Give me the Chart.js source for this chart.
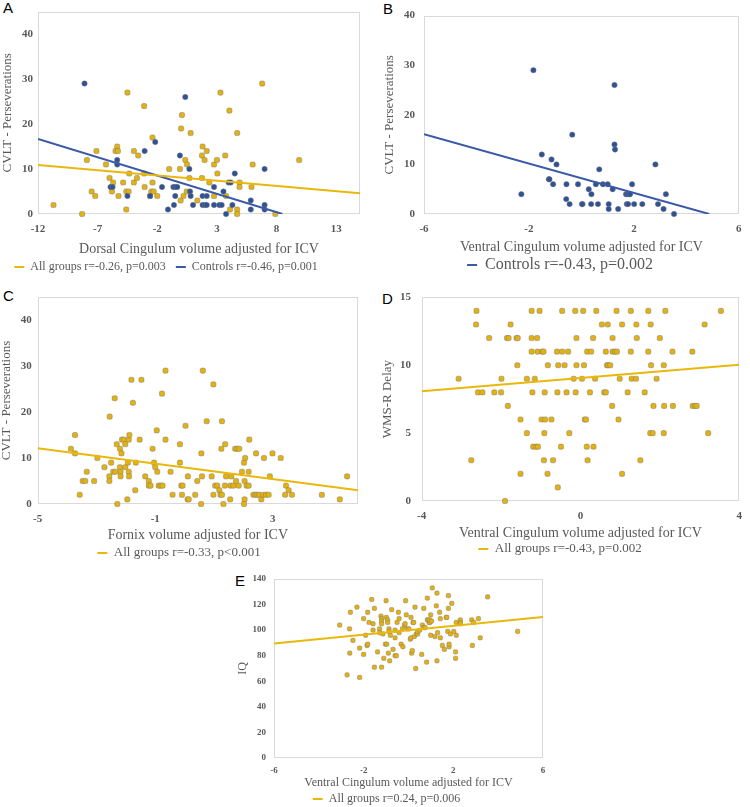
<!DOCTYPE html>
<html><head><meta charset="utf-8">
<script src="https://cdn.jsdelivr.net/npm/chart.js@4.4.1/dist/chart.umd.min.js"></script>
<style>
html,body{margin:0;padding:0;background:#fff;}
body{width:750px;height:807px;overflow:hidden;position:relative;}
canvas{position:absolute;}
.lt{position:absolute;font-family:"Liberation Sans",Arial,sans-serif;font-size:15px;color:#000;line-height:1;}
</style></head><body>
<div class="lt" style="left:3px;top:0px">A</div>
<div class="lt" style="left:383px;top:1px">B</div>
<div class="lt" style="left:3px;top:288px">C</div>
<div class="lt" style="left:382px;top:291px">D</div>
<div class="lt" style="left:235px;top:573px">E</div>
<script>
// ---------- Panel A : Dorsal cingulum vs CVLT perseverations ----------
const aAllX = [-10.7,-8.3,-7.9,-7.5,-7.2,-7.1,-6.3,-6.0,-5.8,-5.7,-5.5,-5.36,-5.3,-5.25,-4.86,-4.6,-4.4,-4.6,-4.5,-4.35,-3.96,-3.96,-3.7,-3.6,-3.1,-3.06,-3.1,-2.6,-2.5,-2.4,-2.4,-2.3,-2.0,-1.0,-0.1,-0.04,0.0,0.07,0.2,0.35,0.47,0.5,0.8,0.7,1.36,1.75,1.75,1.8,1.97,2.15,2.37,2.76,2.76,3.0,3.04,3.3,3.7,3.77,4.05,4.1,4.7,4.7,4.7,4.9,4.9,5.9,6.0,6.8,7.9,9.9];
const aAllY = [2,0,12,5,4,14,11,8,5,7,14,15,14,4,7,5,5,1,27,9,7,14,8,13,24,6,9,4,5,17,7,5,4,10,10,3,19,22,4,12,5,11,18,8,3,8,13,15,12,14,7,11,4,12,9,27,13,4,23,1,18,1,0,7,6,6,11,29,0,12];
const aCtrlX = [-8.1,0.35,-2.17,-3.06,-5.36,-5.36,-0.1,0.69,4.5,7.0,-5.92,-5.75,-1.6,-0.65,-0.49,-0.32,0.75,-4.5,-2.6,-0.49,0.8,1.8,2.15,2.76,3.55,3.99,4.16,4.3,5.84,5.84,7.0,7.0,-1.1,-0.6,1.0,1.8,2.0,2.15,2.76,3.2,3.4,3.77];
const aCtrlY = [29,26,16,14,12,11,13,10,9,10,6,6,6,6,6,6,5,4,4,4,4,4,4,6,5,7,7,2,3,1,2,1,1,2,2,2,2,2,2,2,2,0];
const aAllTrendX = [-12,15];
const aAllTrendY = [10.9,4.6];
const aCtrlTrendX = [-12,8.5];
const aCtrlTrendY = [16.7,0];
const aXTicks = [-12,-7,-2,3,8,13];
const aYTicks = [0,10,20,30,40];
const aLabels = ['All groups r=-0.26, p=0.003','Controls r=-0.46, p=0.001'];

// ---------- Panel B : Ventral cingulum (controls) ----------
const bCtrlX = [-2.29,-1.83,-1.51,-1.14,-0.95,-1.24,-1.22,-1.08,-0.57,-0.58,-0.45,-0.35,-0.13,0.02,0.04,0.28,0.38,0.37,0.55,0.63,0.68,0.82,1.0,1.04,1.04,1.19,1.26,1.26,1.28,1.4,1.7,1.75,1.83,1.85,1.73,1.78,1.93,2.01,2.32,2.82,2.92,3.13,3.22,3.53];
const bCtrlY = [4,29,12,11,10,7,7,6,6,3,2,16,6,2,2,5,4,2,6,2,9,6,6,2,1,5,26,14,13,1,4,4,4,4,2,2,6,2,2,10,2,1,4,0];
const bTrendX = [-6,4.87];
const bTrendY = [16.1,0];
const bXTicks = [-6,-2,2,6];
const bYTicks = [0,10,20,30,40];
const bLabels = ['Controls r=-0.43, p=0.002'];

// ---------- Panel C : Fornix ----------
const cAllX = [-3.87,-3.73,-3.73,-3.57,-3.47,-3.38,-3.33,-3.08,-2.97,-2.73,-2.56,-2.56,-2.55,-2.5,-2.43,-2.36,-2.38,-2.31,-2.29,-2.2,-2.15,-2.2,-2.18,-2.18,-2.13,-2.07,-2.02,-2.02,-1.95,-1.93,-1.9,-1.88,-1.9,-1.89,-1.81,-1.76,-1.68,-1.66,-1.53,-1.47,-1.34,-1.22,-1.22,-1.16,-1.09,-1.04,-1.0,-0.95,-0.93,-0.88,-0.82,-0.75,-0.77,-0.65,-0.65,-0.48,-0.41,-0.16,-0.16,-0.11,-0.07,-0.09,0.03,0.1,0.14,0.11,0.36,0.43,0.56,0.57,0.59,0.62,0.75,0.92,0.98,0.98,1.04,1.11,1.18,1.22,1.27,1.27,1.25,1.32,1.37,1.38,1.41,1.55,1.56,1.59,1.66,1.72,1.79,1.86,1.75,1.84,1.95,2.02,2.04,2.06,2.04,2.02,2.11,2.18,2.18,2.2,2.34,2.41,2.47,2.54,2.43,2.61,2.68,2.77,2.86,2.7,2.9,2.99,3.27,3.42,3.45,3.54,3.65,4.67,5.28,5.53];
const cAllY = [12,15,11,2,5,5,7,5,10,8,6,5,19,9,7,7,23,13,0,12,11,8,7,6,14,14,13,8,1,9,14,15,7,6,27,22,3,9,14,27,6,5,4,4,12,9,8,16,7,4,4,4,24,29,14,7,2,9,13,4,4,2,17,1,1,6,2,5,0,11,6,29,18,6,26,2,4,4,3,2,2,18,12,0,4,13,6,1,4,6,4,12,12,12,5,4,7,9,5,10,1,0,4,4,7,14,2,2,2,2,11,1,2,2,2,10,6,11,10,2,4,3,2,2,1,6];
const cTrendX = [-5,5.9];
const cTrendY = [12.1,3.0];
const cXTicks = [-5,-1,3];
const cYTicks = [0,10,20,30,40];
const cLabels = ['All groups r=-0.33, p<0.001'];

// ---------- Panel D : Ventral cingulum vs WMS-R delay ----------
const dAllX = [-2.62,-1.23,-1.03,-0.46,-0.13,0.07,0.40,0.91,1.27,1.71,2.14,3.54,
  -2.63,-1.76,0.54,0.69,1.05,1.41,1.77,3.13,
  -2.30,-1.85,-1.81,-1.61,-1.58,-1.23,-1.09,-0.10,0.32,0.81,1.42,2.0,
  -1.23,-1.08,-0.96,-0.93,-0.59,-0.46,-0.31,0.17,0.27,0.64,0.81,0.87,0.92,1.27,1.71,2.32,2.82,
  -1.59,-0.82,-0.56,-0.40,-0.10,0.09,0.67,0.70,0.75,1.78,2.10,
  -3.07,-1.99,-1.35,-1.15,-0.17,0.04,0.37,0.99,1.29,1.40,1.92,
  -2.58,-2.47,-2.17,-2.0,-1.21,-0.90,-0.58,-0.35,-0.12,0.24,0.60,0.64,1.19,1.62,
  -1.83,0.80,1.84,2.11,2.33,2.83,2.89,2.93,
  -1.51,-0.98,-0.89,-0.73,0.11,0.14,0.96,
  -1.35,-0.91,-0.28,1.76,1.82,2.10,3.22,
  -1.19,-1.12,-1.07,-0.49,0.16,0.33,
  -2.75,-0.92,-0.69,0.18,1.51,
  -1.51,-0.83,1.05,
  -0.57,
  -1.90];
const dAllY = [14,14,14,14,14,14,14,14,14,14,14,14,
  13,13,13,13,13,13,13,13,
  12,12,12,12,12,12,12,12,12,12,12,12,
  11,11,11,11,11,11,11,11,11,11,11,11,11,11,11,11,11,
  10,10,10,10,10,10,10,10,10,10,10,
  9,9,9,9,9,9,9,9,9,9,9,
  8,8,8,8,8,8,8,8,8,8,8,8,8,8,
  7,7,7,7,7,7,7,7,
  6,6,6,6,6,6,6,
  5,5,5,5,5,5,5,
  4,4,4,4,4,4,
  3,3,3,3,3,
  2,2,2,
  1,
  0];
const dTrendX = [-4,4];
const dTrendY = [8.08,10.03];
const dXTicks = [-4,0,4];
const dYTicks = [0,5,10,15];
const dLabels = ['All groups r=-0.43, p=0.002'];

// ---------- Panel E : Ventral cingulum vs IQ ----------
const eAllX = [-3.07,-2.74,-2.63,-2.62,-2.59,-2.48,-2.30,-2.18,-2.18,-2.0,-2.0,-1.91,-1.85,-1.82,-1.82,-1.76,-1.64,-1.58,-1.58,-1.52,-1.52,-1.38,-1.29,-1.29,-1.23,-1.2,-1.2,-1.2,-1.2,-1.14,-1.1,-1.03,-0.97,-1.0,-0.99,-0.93,-0.93,-0.9,-0.87,-0.87,-0.84,-0.81,-0.75,-0.69,-0.6,-0.6,-0.6,-0.54,-0.51,-0.45,-0.42,-0.42,-0.33,-0.27,-0.25,-0.18,-0.15,-0.13,-0.1,-0.04,0.02,0.08,0.11,0.11,0.14,0.17,0.2,0.23,0.26,0.29,0.32,0.35,0.41,0.41,0.5,0.59,0.62,0.68,0.68,0.74,0.81,0.84,0.87,0.84,0.92,0.95,0.95,0.99,0.99,1.03,1.06,1.18,1.24,1.27,1.27,1.3,1.39,1.42,1.42,1.51,1.6,1.68,1.71,1.75,1.78,1.78,1.81,1.81,1.87,1.93,2.02,2.1,2.1,2.13,2.13,2.31,2.31,2.31,2.82,2.85,2.91,3.12,3.2,3.53,4.87];
const eAllY = [104,65,101,82,114,92,118,86,63,109,81,96,88,89,114,106,124,105,100,117,71,83,101,98,111,109,107,105,71,97,78,89,89,123,110,108,106,82,101,99,76,96,116,85,100,94,80,80,106,114,109,98,89,101,87,104,105,123,112,101,101,93,94,110,82,84,106,106,95,118,70,97,97,99,100,81,104,117,102,102,75,108,108,125,106,106,108,112,96,107,133,95,119,129,76,98,114,109,94,88,85,110,110,99,117,127,87,89,97,121,99,83,78,96,106,108,106,105,108,88,106,109,94,126,99];
const eTrendX = [-6,6];
const eTrendY = [89.6,110.3];
const eXTicks = [-6,-2,2,6];
const eYTicks = [0,20,40,60,80,100,120,140];
const eLabels = ['All groups r=0.24, p=0.006'];

// ---------- styling helpers ----------
const SERIF = '"Liberation Serif","DejaVu Serif",serif';
const GOLD = '#E4B20E', GOLD_LINE = '#E8B80C';
const BLUE = '#2F5297', BLUE_LINE = '#3A5AA8';
const GREY = '#595959';

function pts(xs, ys) { return xs.map((x, i) => ({x: x, y: ys[i]})); }
function trend(label, xs, ys, color) {
  return {label: label, data: pts(xs, ys), showLine: true, borderColor: color, backgroundColor: color,
    borderWidth: 2, pointRadius: 0, pointHoverRadius: 0, pointStyle: 'line', inLegend: true};
}
function marks(xs, ys, color, style, r) {
  return {label: '', data: pts(xs, ys), showLine: false, pointStyle: style, pointRadius: r, pointHoverRadius: r,
    backgroundColor: color, borderColor: color, pointBackgroundColor: color,
    pointBorderColor: 'rgba(120,120,120,0.45)', pointBorderWidth: 1, clip: false, inLegend: false};
}

const frame = {id: 'frame', beforeDatasetsDraw(c) {
  const a = c.chartArea, x = c.ctx;
  x.save(); x.strokeStyle = '#D9D9D9'; x.lineWidth = 1;
  x.strokeRect(Math.round(a.left) + 0.5, Math.round(a.top) + 0.5, Math.round(a.right - a.left) - 1, Math.round(a.bottom - a.top) - 1);
  x.restore();
}};

function panel(g, s) {
  const areaL = g.l - g.cl, areaT = g.t - g.ct, areaR = g.r - g.cl, areaB = g.b - g.ct;
  const padR = g.cw - areaR;
  const legendTop = g.legY - g.ct - g.legPad - g.legSize / 2;
  const xh = legendTop - areaB;
  const xTickPad = g.tickY - g.b - g.tickSize * 1.2 / 2;
  const xTitlePadB = legendTop - (g.xTitleY - g.ct) - g.xTitleSize * 1.2 / 2;
  const legendBottom = legendTop + g.legSize + g.legPad + 10;
  const ch = Math.ceil(legendBottom) + 1;
  const padB = ch - legendBottom;
  const yTitlePadT = g.yTitleX - g.cl - g.yTitleSize * 1.2 / 2;
  const cv = document.createElement('canvas');
  cv.width = g.cw; cv.height = ch;
  cv.style.left = g.cl + 'px'; cv.style.top = g.ct + 'px';
  document.body.appendChild(cv);
  const tickFont = {family: SERIF, size: g.tickSize, weight: 'bold'};
  new Chart(cv, {
    type: 'scatter',
    data: {datasets: s.datasets},
    options: {
      responsive: false, animation: false, events: [],
      layout: {padding: {left: 0, top: areaT, right: padR, bottom: padB}},
      plugins: {
        tooltip: {enabled: false},
        legend: {position: 'bottom', align: 'center',
          labels: {usePointStyle: true, pointStyleWidth: 10, padding: g.legPad, color: GREY,
            font: {family: SERIF, size: g.legSize},
            filter: (it, d) => d.datasets[it.datasetIndex].inLegend}}
      },
      scales: {
        x: {type: 'linear', min: s.xMin, max: s.xMax,
          afterBuildTicks: sc => { sc.ticks = s.xTicks.map(v => ({value: v})); },
          afterFit: sc => { sc.height = xh; },
          grid: {display: false, drawTicks: false}, border: {display: false},
          ticks: {padding: xTickPad, autoSkip: false, maxRotation: 0, font: tickFont, color: GREY},
          title: {display: true, text: s.xTitle, color: GREY, font: {family: SERIF, size: g.xTitleSize},
            padding: {top: 0, bottom: xTitlePadB}}},
        y: {type: 'linear', min: s.yMin, max: s.yMax,
          afterBuildTicks: sc => { sc.ticks = s.yTicks.map(v => ({value: v})); },
          afterFit: sc => { sc.width = areaL; },
          grid: {display: false, drawTicks: false}, border: {display: false},
          ticks: {padding: g.yTickPad, autoSkip: false, font: tickFont, color: GREY},
          title: {display: true, text: s.yTitle, color: GREY, font: {family: SERIF, size: g.yTitleSize},
            padding: {top: yTitlePadT, bottom: 0}}}
      }
    },
    plugins: [frame]
  });
}

// Panel A
panel({cl: -28, ct: 0, cw: 403, l: 38, t: 7, r: 360, b: 214, tickSize: 11, tickY: 229.5,
  xTitleSize: 14, xTitleY: 249, yTitleSize: 13, yTitleX: 7.5, yTickPad: 5, legSize: 12, legY: 267, legPad: 10},
  {xMin: -12, xMax: 15, yMin: 0, yMax: 45, xTicks: aXTicks, yTicks: aYTicks,
   xTitle: 'Dorsal Cingulum volume adjusted for ICV', yTitle: 'CVLT - Perseverations',
   datasets: [trend(aLabels[0], aAllTrendX, aAllTrendY, GOLD_LINE),
              trend(aLabels[1], aCtrlTrendX, aCtrlTrendY, BLUE_LINE),
              marks(aCtrlX, aCtrlY, BLUE, 'circle', 2.7),
              marks(aAllX, aAllY, GOLD, 'rectRounded', 3)]});

// Panel B
panel({cl: 375, ct: 0, cw: 375, l: 424, t: 7, r: 745, b: 214, tickSize: 11, tickY: 229,
  xTitleSize: 14, xTitleY: 247, yTitleSize: 13, yTitleX: 390, yTickPad: 9, legSize: 16, legY: 265, legPad: 10},
  {xMin: -6, xMax: 6, yMin: 0, yMax: 40, xTicks: bXTicks, yTicks: bYTicks,
   xTitle: 'Ventral Cingulum volume adjusted for ICV', yTitle: 'CVLT - Perseverations',
   datasets: [trend(bLabels[0], bTrendX, bTrendY, BLUE_LINE),
              marks(bCtrlX, bCtrlY, BLUE, 'circle', 2.7)]});

// Panel C
panel({cl: 0, ct: 280, cw: 375, l: 37.7, t: 297, r: 358, b: 504, tickSize: 11, tickY: 519,
  xTitleSize: 14, xTitleY: 535, yTitleSize: 13, yTitleX: 7, yTickPad: 6, legSize: 13, legY: 553, legPad: 10},
  {xMin: -5, xMax: 5.9, yMin: 0, yMax: 45, xTicks: cXTicks, yTicks: cYTicks,
   xTitle: 'Fornix volume adjusted for ICV', yTitle: 'CVLT - Perseverations',
   datasets: [trend(cLabels[0], cTrendX, cTrendY, GOLD_LINE),
              marks(cAllX, cAllY, GOLD, 'rectRounded', 3)]});

// Panel D
panel({cl: 375, ct: 280, cw: 375, l: 421.7, t: 297, r: 745, b: 501, tickSize: 11, tickY: 515.7,
  xTitleSize: 14, xTitleY: 533, yTitleSize: 13, yTitleX: 387.7, yTickPad: 10.7, legSize: 13, legY: 549, legPad: 10},
  {xMin: -4, xMax: 4, yMin: 0, yMax: 15, xTicks: dXTicks, yTicks: dYTicks,
   xTitle: 'Ventral Cingulum volume adjusted for ICV', yTitle: 'WMS-R Delay',
   datasets: [trend(dLabels[0], dTrendX, dTrendY, GOLD_LINE),
              marks(dAllX, dAllY, GOLD, 'rectRounded', 3)]});

// Panel E
panel({cl: 230, ct: 560, cw: 330, l: 274, t: 579, r: 543, b: 758, tickSize: 9, tickY: 770.7,
  xTitleSize: 12, xTitleY: 783, yTitleSize: 12, yTitleX: 243, yTickPad: 8, legSize: 12, legY: 799, legPad: 10},
  {xMin: -6, xMax: 6, yMin: 0, yMax: 140, xTicks: eXTicks, yTicks: eYTicks,
   xTitle: 'Ventral Cingulum volume adjusted for ICV', yTitle: 'IQ',
   datasets: [trend(eLabels[0], eTrendX, eTrendY, GOLD_LINE),
              marks(eAllX, eAllY, GOLD, 'rectRounded', 2.5)]});
</script>
</body></html>
